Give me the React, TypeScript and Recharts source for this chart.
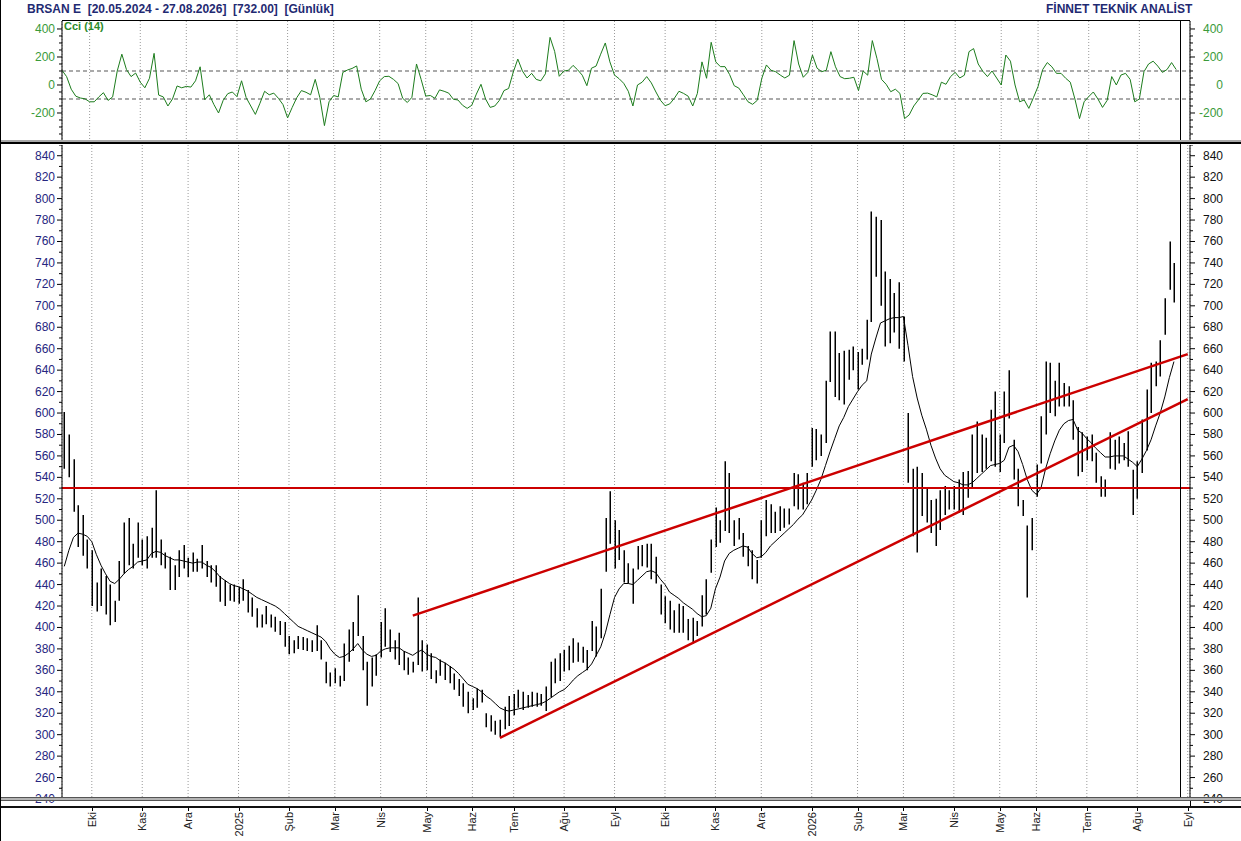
import React from "react"
import { ComposedChart, Bar, Line, XAxis, YAxis, CartesianGrid, ReferenceLine } from "recharts"

const FONT = "'Liberation Sans', Arial, sans-serif"
const NAVY = "#1f2a72"
const RED = "#cc0000"
const GREEN = "#1c7c1c"

// one bar ~ two trading days; month label + number of bars in that month
const monthLabels = ["", "Eki", "Kas", "Ara", "2025", "Şub", "Mar", "Nis", "May", "Haz", "Tem", "Ağu", "Eyl",
  "Eki", "Kas", "Ara", "2026", "Şub", "Mar", "Nis", "May", "Haz", "Tem", "Ağu", "Eyl"]
const monthBars = [6, 11, 10, 11, 11, 10, 10, 10, 10, 9, 11, 11, 11, 11, 10, 11, 10, 10, 11, 10, 8, 11, 11, 11, 1]

const highs = [
  601, 580, 557, 514, 505, 482, 472, 442, 455, 448,
  440, 425, 462, 498, 502, 478, 498, 482, 485, 493,
  528, 482, 470, 466, 458, 472, 477, 465, 470, 464,
  477, 462, 458, 458, 448, 444, 440, 440, 438, 445,
  435, 428, 418, 412, 420, 412, 410, 406, 405, 392,
  388, 392, 391, 390, 388, 402, 388, 368, 358, 362,
  355, 385, 398, 405, 430, 392, 368, 372, 375, 405,
  418, 398, 388, 395, 378, 372, 368, 428, 388, 384,
  376, 360, 370, 367, 364, 357, 352, 348, 340, 334,
  343, 342, 320, 318, 313, 314, 326, 336, 338, 342,
  340, 337, 340, 339, 338, 345, 368, 371, 376, 379,
  383, 390, 386, 382, 379, 406, 401, 436, 502, 527,
  500, 491, 472, 460, 455, 476, 477, 478, 478, 466,
  440, 429, 425, 416, 422, 420, 408, 409, 406, 430,
  445, 482, 512, 500, 555, 544, 500, 502, 488, 476,
  472, 463, 500, 519, 515, 508, 513, 511, 511, 544,
  543, 535, 544, 586, 585, 580, 630, 676, 676, 656,
  658, 659, 662, 657, 660, 687, 788, 783, 780, 732,
  725, 712, 722, 690, 600, 548, 550, 544, 530, 519,
  520, 528, 532, 528, 532, 538, 545, 546, 580, 592,
  580, 577, 603, 620, 580, 620, 640, 575, 548, 519,
  495, 502, 552, 597, 648, 647, 630, 647, 628, 625,
  612, 587, 582, 578, 580, 563, 541, 538, 582, 575,
  578, 572, 583, 547, 555, 594, 622, 647, 648, 668,
  707, 760, 740,
]

const lows = [
  548, 540, 508, 475, 467, 455, 420, 415, 420, 412,
  402, 405, 425, 450, 458, 455, 465, 458, 455, 465,
  465, 458, 455, 435, 435, 447, 455, 447, 452, 452,
  455, 447, 442, 438, 424, 420, 425, 424, 422, 425,
  414, 410, 400, 400, 403, 400, 396, 393, 382, 375,
  376, 380, 379, 378, 377, 378, 370, 348, 345, 348,
  345, 350, 368, 378, 392, 360, 327, 345, 355, 372,
  382, 377, 370, 365, 360, 356, 358, 365, 359, 360,
  352, 348, 355, 351, 348, 342, 336, 326, 320, 323,
  325, 330, 307, 303, 300, 298, 305, 308, 318, 325,
  323, 325, 326, 326, 327, 322, 335, 348, 350, 359,
  360, 367, 368, 367, 360, 378, 373, 390, 452, 478,
  455, 463, 442, 441, 422, 454, 457, 456, 445, 441,
  412, 404, 398, 395, 395, 395, 388, 385, 392, 401,
  412, 451, 475, 479, 490, 488, 476, 482, 466, 457,
  445, 441, 465, 485, 488, 488, 490, 493, 496, 513,
  510, 510, 515, 550, 556, 560, 572, 629, 615, 612,
  608, 631, 640, 622, 645, 650, 685, 727, 700, 662,
  665, 675, 660, 648, 535, 485, 470, 504, 498, 488,
  476, 491, 505, 510, 510, 507, 505, 521, 530, 544,
  545, 548, 555, 550, 545, 572, 595, 538, 513, 504,
  428, 472, 522, 553, 580, 600, 597, 606, 606, 606,
  575, 541, 545, 556, 555, 535, 522, 522, 548, 547,
  553, 556, 550, 505, 520, 544, 565, 600, 625, 634,
  673, 715, 703,
]

// moving average line
const movAvg = [
  457, 472, 484, 488, 487, 485, 480, 468, 458, 450,
  443, 441, 445, 450, 454, 457, 461, 462, 463, 469,
  471, 470, 467, 465, 463, 463, 462, 461, 460, 461,
  461, 458, 456, 452, 447, 444, 441, 439, 438, 436,
  434, 431, 428, 426, 424, 422, 420, 417, 413, 409,
  405, 401, 399, 397, 395, 393, 391, 387, 380, 375,
  372, 373, 376, 380, 385, 379, 375, 373, 374, 378,
  380, 381, 381, 381, 378, 376, 374, 377, 379, 375,
  373, 372, 369, 367, 364, 361, 357, 352, 347, 345,
  343, 340, 336, 333, 329, 325, 323, 322, 323, 324,
  325, 326, 327, 328, 329, 331, 334, 337, 340, 342,
  346, 351, 355, 358, 361, 366, 374, 382, 395, 412,
  428, 436, 441, 441, 440, 444, 448, 452, 453, 451,
  445, 440, 433, 430, 427, 423, 420, 417, 413, 410,
  411, 418, 436, 447, 462, 469, 472, 474, 476, 475,
  469, 465, 466, 470, 476, 480, 484, 488, 492, 496,
  501, 505, 512, 519, 528, 538, 551, 564, 576, 588,
  596, 606, 613, 620, 626, 630, 655, 670, 684, 686,
  688, 689, 689, 690, 663, 634, 614, 598, 585, 570,
  558, 548, 542, 539, 536, 535, 533, 533, 535, 539,
  543, 547, 551, 552, 553, 556, 568, 570, 564, 552,
  538, 528, 524, 530, 548, 562, 574, 584, 590, 593,
  594, 584, 581, 576, 572, 567, 563, 559, 559, 560,
  560, 560, 557, 554, 550, 557, 565, 575, 588, 600,
  615, 633, 648,
]

const cci = [
  105, 60, -30, -80, -93, -99, -120, -120, -85, -55,
  -110, -85, 100, 220, 110, 60, 85, 20, -20, 48,
  226, -72, -85, -150, -100, -7, -20, -10, -15, 30,
  130, -105, -70, -140, -200, -110, -62, -50, -83, 30,
  -90, -150, -210, -130, -45, -70, -58, -95, -140, -235,
  -160, -90, -40, -52, -70, 40, -90, -290, -120, -75,
  -85, 90, 107, 118, 136, -30, -120, -100, -40, 30,
  60, 62, 40, 10, -95, -125, -88, 150, 40, -79,
  -75, -95, -35, -45, -58, -102, -107, -145, -167, -145,
  -65, 5, -100, -160, -150, -110, -40, -25, 90, 185,
  100, 50, 83, 40, 30, 80, 340, 240, 62, 100,
  105, 140, 108, 70, -5, 120, 135, 220, 300, 165,
  71, 45, 12, -45, -150, 0, 20, 60, 15, -50,
  -110, -148, -135, -95, -45, -60, -80, -150, -60, 165,
  48, 305, 165, 131, 131, 75, -5, -22, -70, -120,
  -138, -110, 48, 143, 105, 95, 71, 50, 70, 317,
  150, 55, 90, 214, 120, 95, 105, 238, 130, 60,
  45, 48, 55, -40, 100, 70, 317, 190, 40, 5,
  -48, -30, -60, -240, -214, -150, -107, -60, -58, -70,
  -85, 20, 5, 60, 90, 50, 70, 238, 260, 150,
  98, 60, 100, 50, 0, 214, 170, 0, -120, -107,
  -167, -90, -10, 110, 160, 130, 83, 83, 48, 20,
  -100, -240, -120, -83, -50, -100, -160, -110, 60, 0,
  71, 83, 40, -120, -100, 95, 150, 170, 135, 90,
  110, 160, 110,
]

const priceMajor = [240, 260, 280, 300, 320, 340, 360, 380, 400, 420, 440, 460, 480, 500, 520, 540,
  560, 580, 600, 620, 640, 660, 680, 700, 720, 740, 760, 780, 800, 820, 840]
const priceTicks = [...priceMajor, ...priceMajor.map((v) => v + 10)]
const cciTicks = [-350, -300, -250, -200, -150, -100, -50, 0, 50, 100, 150, 200, 250, 300, 350, 400]
const cciLabels = [-200, 0, 200, 400]

const supportLevel = 530
// trend lines: [start bar, start price, end bar, end price]
const trendLines = [
  [76, 411, 245, 655],
  [95, 297, 245, 613],
]

type Row = { i: number; hl: [number, number] | null; ma: number | null; cci: number | null }

const rows: Row[] = []
const tickIdx: number[] = []
const tickName: Record<number, string> = {}
monthBars.forEach((n, m) => {
  if (monthLabels[m]) {
    tickIdx.push(rows.length)
    tickName[rows.length] = monthLabels[m]
  }
  for (let k = 0; k < n; k++) {
    const i = rows.length
    const has = i < highs.length
    rows.push({
      i,
      hl: has ? [lows[i], highs[i]] : null,
      ma: has ? movAvg[i] : null,
      cci: has ? cci[i] : null,
    })
  }
})

function HighLow(props: any) {
  const { x, y, width, height } = props
  if (![x, y, width, height].every((v) => Number.isFinite(v))) return null
  const cx = Math.round(x + width / 2) + 0.25
  const top = Math.min(y, y + height)
  const bot = Math.max(y, y + height)
  return <line x1={cx} x2={cx} y1={top} y2={bot} stroke="#000" strokeWidth={1.5} />
}

function MonthTick({ x, y, payload }: any) {
  const cx = Math.round(x) + 0.5
  return (
    <g>
      <line x1={cx} x2={cx} y1={y + 7} y2={y + 12} stroke="#000" />
      <text
        transform={`translate(${cx},${y + 13}) rotate(-90)`}
        textAnchor="end"
        dy="0.35em"
        fontSize={11}
        fontFamily={FONT}
        fill="#222"
      >
        {tickName[payload.value]}
      </text>
    </g>
  )
}

function AxisTick({ x, y, payload, side, color, labels }: any) {
  const v = payload.value
  const major = labels.includes(v)
  const len = major ? 5 : 3
  const dir = side === "left" ? -1 : 1
  return (
    <g>
      <line x1={x} x2={x + dir * len} y1={y} y2={y} stroke="#000" />
      {major && (
        <text
          x={side === "left" ? x - 7 : x + 33}
          y={y}
          dy={4}
          textAnchor="end"
          fontSize={12}
          fontFamily={FONT}
          fill={color}
        >
          {v}
        </text>
      )}
    </g>
  )
}

const abs = (s: React.CSSProperties): React.CSSProperties => ({ position: "absolute", ...s })

export default function App() {
  return (
    <div style={abs({ left: 0, top: 0, width: 1241, height: 841, background: "#fff", overflow: "hidden", fontFamily: FONT })}>
      <div style={abs({ left: 27, top: 2, fontSize: 12, fontWeight: "bold", color: NAVY, whiteSpace: "pre" })}>
        BRSAN E  [20.05.2024 - 27.08.2026]  [732.00]  [Günlük]
      </div>
      <div style={abs({ left: 1046, top: 2, fontSize: 12, fontWeight: "bold", color: NAVY, whiteSpace: "pre" })}>
        FİNNET TEKNİK ANALİST
      </div>

      {/* CCI panel */}
      <div style={abs({ left: 0, top: 0 })}>
        <ComposedChart width={1241} height={145} data={rows} margin={{ top: 21, right: 0, bottom: 4, left: 0 }}>
          <CartesianGrid horizontal={false} stroke="#9a9a9a" strokeDasharray="1 2" />
          <XAxis dataKey="i" type="category" ticks={tickIdx} interval={0} hide />
          <YAxis
            domain={[-400, 457]}
            ticks={cciTicks}
            interval={0}
            allowDataOverflow
            width={62}
            tickSize={0}
            tickMargin={0}
            tickLine={false}
            axisLine={{ stroke: "#000" }}
            tick={<AxisTick side="left" color="#3a9a3a" labels={cciLabels} />}
          />
          <YAxis
            yAxisId="r"
            orientation="right"
            domain={[-400, 457]}
            ticks={cciTicks}
            interval={0}
            allowDataOverflow
            width={51}
            tickSize={0}
            tickMargin={0}
            tickLine={false}
            axisLine={{ stroke: "#000" }}
            tick={<AxisTick side="right" color="#3a9a3a" labels={cciLabels} />}
          />
          <ReferenceLine y={100} stroke="#aaa" strokeWidth={2} strokeDasharray="4 3" />
          <ReferenceLine y={-100} stroke="#aaa" strokeWidth={2} strokeDasharray="4 3" />
          <Line dataKey="cci" stroke={GREEN} strokeWidth={1} dot={false} isAnimationActive={false} />
        </ComposedChart>
      </div>
      <div style={abs({ left: 64, top: 20, fontSize: 11, fontWeight: "bold", color: "#2a8a2a" })}>Cci (14)</div>
      <div style={abs({ left: 62, top: 20, width: 1128, height: 1, background: "#000" })} />

      {/* price panel */}
      <div style={abs({ left: 0, top: 145 })}>
        <ComposedChart width={1241} height={696} data={rows} margin={{ top: 0, right: 0, bottom: 0, left: 0 }}>
          <CartesianGrid horizontal={false} stroke="#9a9a9a" strokeDasharray="1 2" />
          <XAxis
            dataKey="i"
            type="category"
            ticks={tickIdx}
            interval={0}
            height={42}
            axisLine={false}
            tickLine={false}
            tickSize={0}
            tickMargin={0}
            tick={<MonthTick />}
          />
          <YAxis
            domain={[240, 850]}
            ticks={priceTicks}
            interval={0}
            allowDataOverflow
            width={62}
            tickSize={0}
            tickMargin={0}
            tickLine={false}
            axisLine={{ stroke: "#000" }}
            tick={<AxisTick side="left" color="#262680" labels={priceMajor} />}
          />
          <YAxis
            yAxisId="r"
            orientation="right"
            domain={[240, 850]}
            ticks={priceTicks}
            interval={0}
            allowDataOverflow
            width={51}
            tickSize={0}
            tickMargin={0}
            tickLine={false}
            axisLine={{ stroke: "#000" }}
            tick={<AxisTick side="right" color="#111" labels={priceMajor} />}
          />
          <Bar dataKey="hl" shape={<HighLow />} isAnimationActive={false} />
          <Line dataKey="ma" stroke="#000" strokeWidth={1} dot={false} isAnimationActive={false} />
          <ReferenceLine y={supportLevel} stroke={RED} strokeWidth={2} />
          {trendLines.map(([x1, y1, x2, y2], k) => (
            <ReferenceLine
              key={k}
              segment={[{ x: x1, y: y1 }, { x: x2, y: y2 }]}
              stroke={RED}
              strokeWidth={2.5}
            />
          ))}
        </ComposedChart>
      </div>

      {/* frame lines and separators */}
      <div style={abs({ left: 1180, top: 21, width: 1, height: 776, background: "#000" })} />
      <div style={abs({ left: 1190, top: 797, width: 1, height: 10, background: "#000" })} />
      <div style={abs({ left: 0, top: 140, width: 1241, height: 2, background: "#a8a8a8" })} />
      <div style={abs({ left: 0, top: 142, width: 1241, height: 2, background: "#000" })} />
      <div
        style={abs({
          left: 0,
          top: 797,
          width: 1241,
          height: 4,
          background: "#b4b4b4",
          borderTop: "1px solid #555",
          borderBottom: "1px solid #555",
          boxSizing: "border-box",
        })}
      />
      <div style={abs({ left: 0, top: 806, width: 1241, height: 2, background: "#111" })} />
      <div style={abs({ left: 0, top: 0, width: 1, height: 841, background: "#000" })} />
    </div>
  )
}
